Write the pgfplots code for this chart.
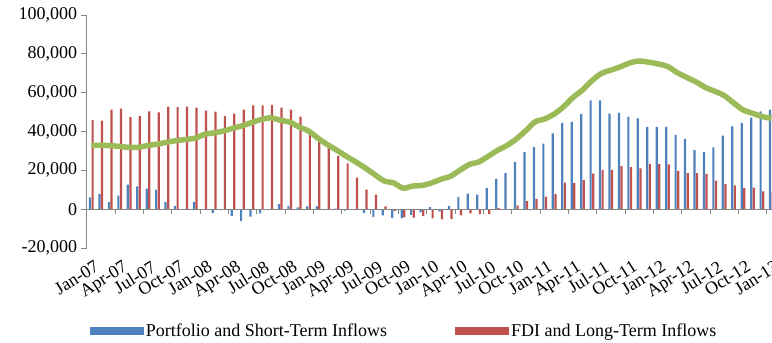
\documentclass[border=0pt]{standalone}
\usepackage{pgfplots}
\pgfplotsset{compat=1.18}
\usepackage{pgfplotstable}
\usepackage{fontspec}
\setmainfont{Liberation Serif}

\definecolor{portblue}{HTML}{4F81BD}
\definecolor{fdired}{HTML}{C0504D}
\definecolor{trendgreen}{HTML}{9BBB59}
\definecolor{axisgray}{HTML}{868686}

% monthly flows, Jan-07 (0) to Jan-13 (72)
\pgfplotstableread{
x port fdi trend
0 6100 46000 32800
1 7900 45600 32900
2 3600 51300 32700
3 7000 51800 32300
4 12700 47400 31800
5 11800 48000 31900
6 10600 50400 32800
7 9900 49900 33500
8 3800 52800 34500
9 1700 52500 35300
10 0 52800 35900
11 3800 52300 36600
12 0 50700 38600
13 -2000 50300 39300
14 0 48000 40300
15 -3400 49200 41700
16 -6200 51300 43000
17 -3900 53500 44700
18 -2200 53500 46200
19 0 53700 47000
20 2600 52300 45800
21 1700 51300 44800
22 900 47700 42300
23 1400 39000 40200
24 1500 36000 36500
25 0 34000 33200
26 300 27500 30300
27 -800 23600 27200
28 -500 16200 24300
29 -2000 10100 21200
30 -4000 7500 17800
31 -3200 1500 14500
32 -4500 -900 13500
33 -4600 -4200 10800
34 -3000 -4400 11900
35 -1700 -3600 12200
36 1000 -4800 13500
37 -1200 -5300 15400
38 1700 -5100 16900
39 6200 -3200 20000
40 8000 -2200 23000
41 7500 -2600 24300
42 10800 -2600 27200
43 15600 500 30300
44 18600 0 32800
45 24300 2000 36200
46 29400 4100 40500
47 32100 5300 45000
48 33800 6500 46500
49 39000 7900 49000
50 44400 13700 52800
51 45000 13500 57600
52 49000 14900 61400
53 56000 18300 66200
54 56000 20200 69900
55 49200 20300 71600
56 49600 22200 73300
57 47700 21700 75300
58 46700 21000 76300
59 42400 23300 75700
60 42400 23200 74800
61 42400 23100 73500
62 38300 19700 70400
63 36200 18500 67900
64 30400 18500 65600
65 29400 18100 62700
66 31800 14700 60700
67 37900 13000 58500
68 42700 12300 54700
69 44400 10900 51100
70 47200 11100 49400
71 50400 9100 47700
72 51300 9000 46800
}\flows

\begin{document}
\begin{tikzpicture}
\begin{axis}[
  name=ax,
  scale only axis, width=685.7pt, height=233pt,
  xmin=-0.5, xmax=72.1, ymin=-20000, ymax=100000,
  axis x line*=bottom, axis y line*=left,
  x axis line style={draw=none},
  y axis line style={draw=axisgray, line width=0.8pt},
  xtick={0,3,...,72},
  xticklabels={Jan-07,Apr-07,Jul-07,Oct-07,Jan-08,Apr-08,Jul-08,Oct-08,Jan-09,Apr-09,Jul-09,Oct-09,Jan-10,Apr-10,Jul-10,Oct-10,Jan-11,Apr-11,Jul-11,Oct-11,Jan-12,Apr-12,Jul-12,Oct-12,Jan-13},
  xtick style={draw=none},
  ytick={-20000,0,...,100000},
  ytick style={draw=axisgray, line width=0.8pt},
  tick align=outside, major tick length=6pt,
  scaled y ticks=false,
  yticklabel style={/pgf/number format/.cd, fixed, 1000 sep={,}, assume math mode=true},
  tick label style={font=\fontsize{18}{20}\selectfont},
  xticklabel style={rotate=32, anchor=north east, inner sep=1pt, yshift=-5pt},
  legend columns=2,
  legend style={draw=none, at={(0,0)}, anchor=north west, xshift=0pt, yshift=-72pt,
    font=\fontsize{18}{20}\selectfont,
    /tikz/every even column/.append style={column sep=66pt}},
]
\addplot[ybar, bar width=2.2pt, bar shift=-1.4pt, fill=portblue, draw=none,
  legend image code/.code={\fill[portblue] (0pt,-4pt) rectangle (54pt,4pt);}]
  table[x=x, y=port] {\flows};
\addlegendentry{Portfolio and Short-Term Inflows}
\addplot[ybar, bar width=2.2pt, bar shift=1.2pt, fill=fdired, draw=none,
  legend image code/.code={\fill[fdired] (0pt,-4pt) rectangle (54pt,4pt);}]
  table[x=x, y=fdi] {\flows};
\addlegendentry{FDI and Long-Term Inflows}
\addplot[trendgreen, line width=5.5pt, smooth, line join=round, forget plot]
  table[x=x, y=trend] {\flows};
\end{axis}
% zero line with category ticks
\begin{axis}[
  at={(ax.south west)}, anchor=south west,
  scale only axis, width=685.7pt, height=233pt,
  xmin=-0.5, xmax=72.1, ymin=-20000, ymax=100000,
  axis x line=middle, axis y line=none,
  axis line style={-, draw=axisgray, line width=0.8pt},
  xtick={2.5,5.5,...,71.5}, xticklabels={},
  xtick style={draw=axisgray, line width=0.8pt, yshift=-2.5pt},
  tick align=center, major tick length=5pt,
  ytick=\empty,
]
\end{axis}
\pgfresetboundingbox
\path[use as bounding box] ([shift={(-86.7pt,-95pt)}]ax.south west) rectangle ([shift={(685.3pt,248pt)}]ax.south west);
\end{tikzpicture}
\end{document}
